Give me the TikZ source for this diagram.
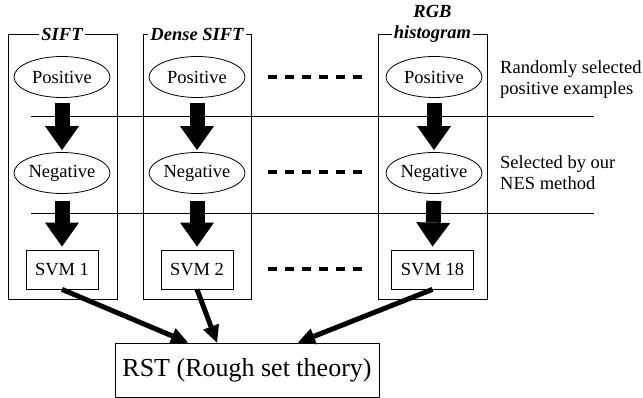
\documentclass[tikz,border=0pt]{standalone}
\usepackage{fontspec}
\setmainfont{Liberation Serif}
\usetikzlibrary{arrows.meta,shapes.geometric,calc}
\begin{document}
\begin{tikzpicture}[x=1pt,y=-1pt,
  txt/.style={font=\fontsize{18.5}{21}\selectfont},
  colbox/.style={draw, line width=0.8pt},
  coltitle/.style={fill=white, inner xsep=2pt, inner ysep=1pt, font=\fontsize{18.5}{21}\selectfont\bfseries\itshape, align=center},
  oval/.style={draw, ellipse, line width=0.8pt, minimum width=96pt, minimum height=41pt, inner sep=0pt, txt},
  svmbox/.style={draw, line width=0.8pt, minimum height=39pt, inner xsep=9pt, inner ysep=0pt, txt},
  bigarrow/.style={line width=15pt, -{Triangle[width=34pt,length=24pt,line width=0pt]}},
  toarrow/.style={line width=5pt, -{Triangle[width=17pt,length=17pt,line width=0pt]}},
  sepline/.style={line width=0.8pt},
  dots/.style={line width=4pt, dash pattern=on 9pt off 8pt},
  note/.style={txt, align=left, anchor=west, inner sep=0pt},
]
\useasboundingbox (0,0) rectangle (643,398);

% column frames
\draw[colbox] (8,34) rectangle (117,299);
\draw[colbox] (143,34) rectangle (251,299);
\draw[colbox] (378,34) rectangle (487,299);

% column titles
\node[coltitle] (t1) at (62,34) {SIFT};
\node[coltitle] (t2) at (197,34) {Dense SIFT};
\node[coltitle] (t3) at (432.5,23.5) {RGB\\histogram};

% separators
\coordinate (s1a) at (31,116);
\coordinate (s1b) at (594,116);
\coordinate (s2a) at (31,213);
\coordinate (s2b) at (594,213);
\draw[sepline] (s1a) -- (s1b);
\draw[sepline] (s2a) -- (s2b);

% ellipses
\node[oval, fill=white] (p1) at (62,77) {Positive};
\node[oval, fill=white] (p2) at (197,77) {Positive};
\node[oval, fill=white] (p3) at (434,77) {Positive};
\node[oval, fill=white] (n1) at (62,173) {Negative};
\node[oval, fill=white] (n2) at (197,173) {Negative};
\node[oval, fill=white] (n3) at (434,173) {Negative};

% SVM boxes
\node[svmbox] (v1) at (62,269.5) {SVM 1};
\node[svmbox] (v2) at (197,269.5) {SVM 2};
\node[svmbox] (v3) at (432.5,269.5) {SVM 18};

% big arrows
\foreach \i in {1,2,3}{
  \draw[bigarrow, shorten <=5pt, shorten >=2pt] (p\i.south) -- (n\i.north);
  \draw[bigarrow, shorten <=7pt, shorten >=3pt] (n\i.south) -- (v\i.north);
}

% dotted continuation
\coordinate (d1a) at (268,77);  \coordinate (d1b) at (362,77);
\coordinate (d2a) at (268,172); \coordinate (d2b) at (362,172);
\coordinate (d3a) at (268,269); \coordinate (d3b) at (362,269);
\draw[dots] (d1a) -- (d1b);
\draw[dots] (d2a) -- (d2b);
\draw[dots] (d3a) -- (d3b);

% notes
\node[note] (r1) at (500,79.5) {Randomly selected\\positive examples};
\node[note] (r2) at (500,173) {Selected by our\\NES method};

% RST box
\node[draw, line width=0.8pt, minimum width=264pt, minimum height=54pt, inner sep=0pt,
      font=\fontsize{26}{30}\selectfont] (rst) at (247,370) {RST (Rough set theory)};

\coordinate (a1) at ($(rst.north)+(-59,0)$);
\coordinate (a2) at ($(rst.north)+(-30,0)$);
\coordinate (a3) at ($(rst.north)+(51,0)$);
\draw[toarrow] (v1.south) -- (a1);
\draw[toarrow] (v2.south) -- (a2);
\draw[toarrow] (v3.south) -- (a3);
\end{tikzpicture}
\end{document}
